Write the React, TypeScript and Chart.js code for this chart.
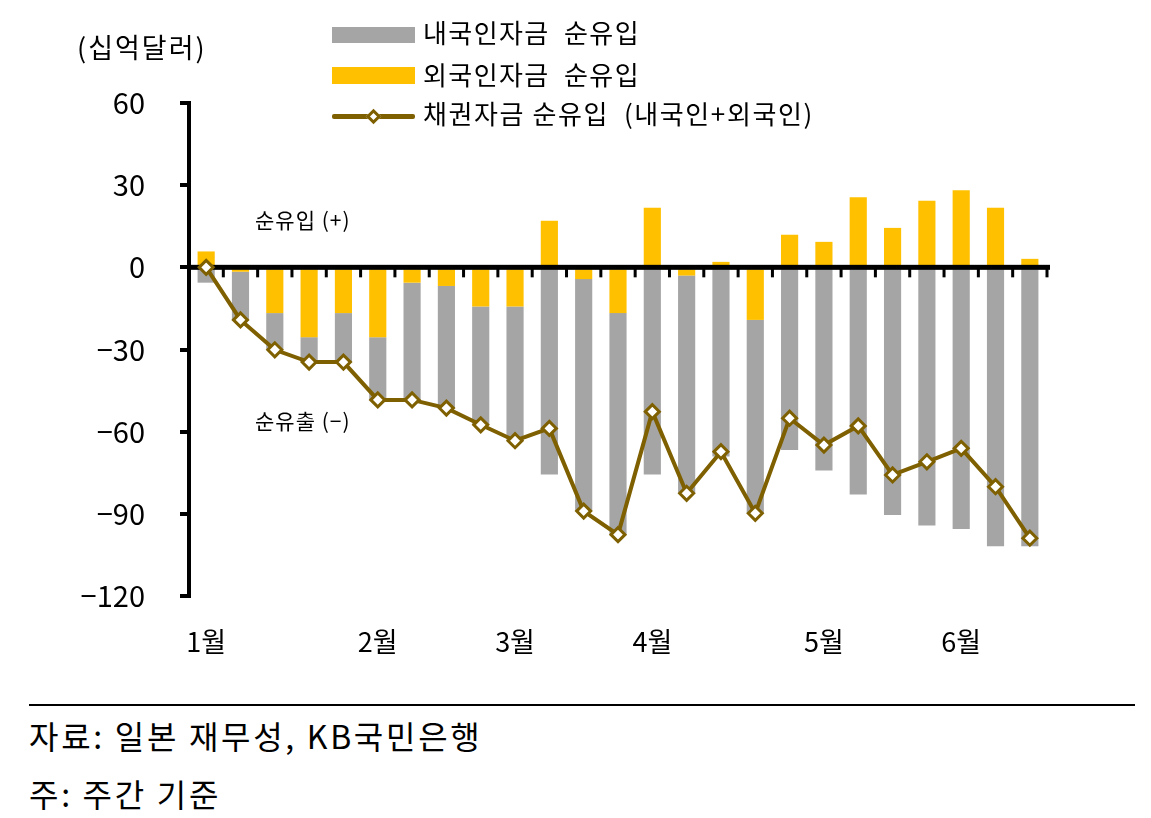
import React, { useEffect, useRef } from "react";
import { Chart, registerables } from "chart.js";

Chart.register(...registerables);

const FONT = "'Noto Sans CJK KR', 'Noto Sans', sans-serif";

const weeks = [
  "1월", "", "", "", "", "2월", "", "", "", "3월", "", "", "", "4월", "", "", "", "", "5월", "", "", "", "6월", "", "",
];

const domestic = [
  -5.6, -17.6, -13.4, -8.9, -17.7, -22.9, -42.8, -44.6, -43.2, -49.0, -75.6, -84.7, -80.9,
  -75.6, -79.5, -69.1, -70.6, -66.7, -74.2, -82.9, -90.4, -94.3, -95.5, -101.8, -101.8,
];

const foreign = [
  5.8, -1.6, -16.7, -25.5, -16.7, -25.5, -5.6, -6.8, -14.3, -14.3, 17.0, -4.3, -16.7,
  21.8, -3.0, 2.0, -19.2, 11.9, 9.3, 25.6, 14.4, 24.3, 28.1, 21.8, 3.1,
];

const total = [
  0, -19.2, -30.1, -34.6, -34.6, -48.4, -48.4, -51.4, -57.5, -63.3, -58.8, -89.0, -97.6,
  -52.7, -82.5, -67.3, -89.8, -55.1, -64.9, -57.9, -75.8, -71.0, -66.1, -80.1, -98.9,
];

const yTicks = [60, 30, 0, -30, -60, -90, -120];

const seriesNames = ["내국인자금  순유입", "외국인자금  순유입", "채권자금 순유입  (내국인+외국인)"];

const GRAY = "#A5A5A5";
const YELLOW = "#FFC000";
const BROWN = "#7F6000";

const zeroLinePlugin = {
  id: "zeroLine",
  beforeDatasetDraw(chart: any, args: any) {
    if (args.index !== 2) return;
    const { ctx, chartArea } = chart;
    const xs = chart.scales.x;
    const ys = chart.scales.y;
    const y0 = ys.getPixelForValue(0);
    ctx.save();
    ctx.fillStyle = "#000";
    ctx.fillRect(chartArea.left, y0 - 2.5, chartArea.right - chartArea.left + 3, 5);
    const n = weeks.length;
    for (let i = 0; i < n; i++) {
      const a = xs.getPixelForValue(i);
      const b = i < n - 1 ? xs.getPixelForValue(i + 1) : a + (a - xs.getPixelForValue(i - 1));
      const x = (a + b) / 2;
      ctx.fillRect(x - 1.5, y0, 3, 10);
    }
    ctx.restore();
  },
};

export default function App() {
  const ref = useRef<HTMLCanvasElement | null>(null);

  useEffect(() => {
    if (!ref.current) return;
    Chart.defaults.font.family = FONT;
    const chart = new Chart(ref.current, {
      type: "bar",
      data: {
        labels: weeks,
        datasets: [
          {
            type: "bar",
            label: seriesNames[0],
            data: domestic,
            backgroundColor: GRAY,
            order: 2,
            stack: "flows",
            categoryPercentage: 1,
            barPercentage: 0.5,
          },
          {
            type: "bar",
            label: seriesNames[1],
            data: foreign,
            backgroundColor: YELLOW,
            order: 1,
            stack: "flows",
            categoryPercentage: 1,
            barPercentage: 0.5,
          },
          {
            type: "line",
            label: seriesNames[2],
            data: total,
            borderColor: BROWN,
            borderWidth: 4,
            pointStyle: "rectRot",
            pointRadius: 7,
            pointBorderWidth: 3,
            pointBackgroundColor: "#fff",
            pointBorderColor: BROWN,
            tension: 0,
            order: 0,
            stack: "total",
          } as any,
        ],
      },
      options: {
        animation: false,
        responsive: false,
        maintainAspectRatio: false,
        devicePixelRatio: 1,
        layout: { padding: { top: 95, right: 96, left: 0, bottom: 0 } },
        plugins: {
          legend: { display: false },
          tooltip: { enabled: false },
        },
        scales: {
          x: {
            type: "category",
            stacked: true,
            offset: true,
            grid: { display: false, drawTicks: false },
            border: { display: false },
            ticks: {
              color: "#000",
              font: { size: 27, family: FONT },
              padding: 30,
              autoSkip: false,
              maxRotation: 0,
              minRotation: 0,
            },
            afterFit(scale: any) {
              scale.height = 92;
            },
          },
          y: {
            stacked: true,
            min: -120,
            max: 60,
            afterBuildTicks(scale: any) {
              scale.ticks = yTicks.map((v) => ({ value: v }));
            },
            grid: {
              display: true,
              drawOnChartArea: false,
              drawTicks: true,
              tickLength: 9,
              color: "#000",
              lineWidth: 4,
            },
            border: { display: true, color: "#000", width: 4 },
            ticks: {
              color: "#000",
              font: { size: 29, family: FONT },
              padding: 35,
              callback: (v: any) => String(v).replace("-", "\u2212"),
            },
            afterFit(scale: any) {
              scale.width = 181;
            },
          },
        },
      },
      plugins: [zeroLinePlugin],
    });
    return () => chart.destroy();
  }, []);

  const txt: React.CSSProperties = {
    position: "absolute",
    fontFamily: FONT,
    color: "#000",
    whiteSpace: "pre",
    lineHeight: "1.2",
    transform: "translateY(-50%)",
  };

  return (
    <div style={{ position: "relative", width: 1135, height: 802, fontFamily: FONT }}>
      <canvas ref={ref} width={1135} height={680} style={{ position: "absolute", left: 0, top: 0, width: 1135, height: 680 }} />
      <div style={{ ...txt, left: 69, top: 39, fontSize: 27, letterSpacing: 2 }}>(십억달러)</div>

      <div style={{ position: "absolute", left: 324, top: 19, width: 83, height: 16, background: GRAY }} />
      <div style={{ ...txt, left: 415, top: 24, fontSize: 26, letterSpacing: 1.4 }}>{seriesNames[0]}</div>
      <div style={{ position: "absolute", left: 324, top: 59, width: 83, height: 17, background: YELLOW }} />
      <div style={{ ...txt, left: 415, top: 66, fontSize: 26, letterSpacing: 1.4 }}>{seriesNames[1]}</div>
      <div style={{ position: "absolute", left: 324, top: 105.5, width: 83, height: 5, background: BROWN, borderRadius: 2 }} />
      <div
        style={{
          position: "absolute",
          left: 365.5 - 5.5,
          top: 108 - 5.5,
          width: 11,
          height: 11,
          background: "#fff",
          border: `3px solid ${BROWN}`,
          boxSizing: "border-box",
          transform: "rotate(45deg)",
        }}
      />
      <div style={{ ...txt, left: 415, top: 105, fontSize: 26, letterSpacing: 1.6 }}>{seriesNames[2]}</div>

      <div style={{ ...txt, left: 247, top: 212, fontSize: 21, letterSpacing: 1 }}>순유입 (+)</div>
      <div style={{ ...txt, left: 247, top: 413, fontSize: 21, letterSpacing: 1 }}>순유출 (−)</div>

      <div style={{ position: "absolute", left: 21, top: 696, width: 1106, height: 1.5, background: "#000" }} />
      <div style={{ ...txt, left: 21, top: 727, fontSize: 32, letterSpacing: 2.7 }}>자료: 일본 재무성, KB국민은행</div>
      <div style={{ ...txt, left: 21, top: 785, fontSize: 32, letterSpacing: 2.7 }}>주: 주간 기준</div>
    </div>
  );
}
